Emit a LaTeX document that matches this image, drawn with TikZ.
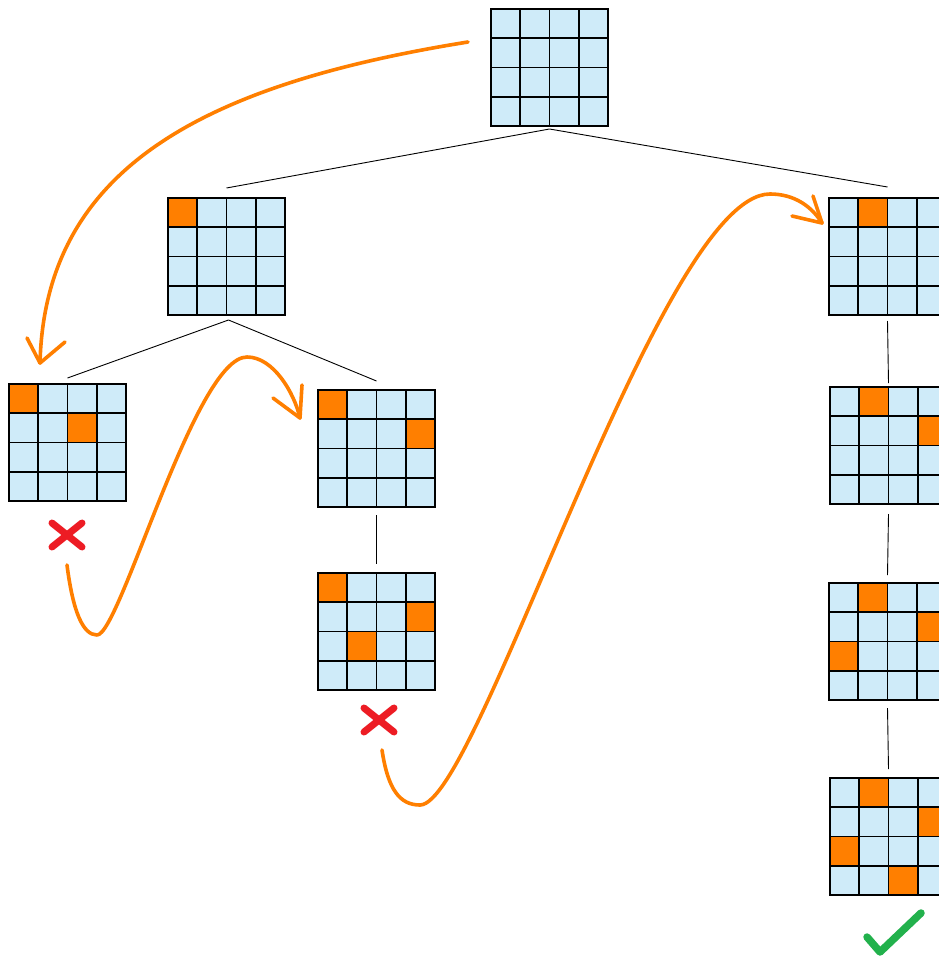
\documentclass[tikz,border=0pt]{standalone}
\usetikzlibrary{calc}
\definecolor{cellblue}{HTML}{CFEBF9}
\definecolor{queenor}{HTML}{FF7F00}
\definecolor{crossred}{HTML}{ED1C24}
\definecolor{checkgreen}{HTML}{22B14C}
\tikzset{
 board/.style={draw=black, line width=1.8pt, fill=cellblue, minimum size=117pt, inner sep=0pt, outer sep=0pt},
 cellline/.style={line width=1.6pt, black},
 queen/.style={fill=queenor},
 tree/.style={line width=0.9pt, black},
 trail/.style={draw=queenor, line width=3.6pt, line cap=round, line join=round},
 crossmark/.style={draw=crossred, line width=7pt, line cap=round},
 checkmark/.style={draw=checkgreen, line width=7.5pt, line cap=round, line join=round},
}
\newcommand\boardbase[3]{\node[board] (#1) at (#2+58.5,#3+58.5) {};}
\newcommand\boardlines[3]{%
 \foreach \qk in {1,2,3} {\draw[cellline] (#2+29.25*\qk,#3) -- ++(0,117); \draw[cellline] (#2,#3+29.25*\qk) -- ++(117,0);}
 \draw[draw=black,line width=1.8pt] (#1.north west) rectangle (#1.south east);}
\newcommand\qboard[4]{%
 \boardbase{#1}{#2}{#3}
 \foreach \qr/\qc in {#4} {\fill[queen] (#2+29.25*\qc-29.25, #3+29.25*\qr-29.25) rectangle ++(29.25,29.25);}
 \boardlines{#1}{#2}{#3}}
\begin{document}
\begin{tikzpicture}[x=1pt,y=-1pt]
\clip (0,0) rectangle (939,958);
\fill[white] (0,0) rectangle (939,958);
% boards
\boardbase{root}{491}{9}\boardlines{root}{491}{9}
\qboard{b2}{168}{198}{1/1}
\qboard{b3}{9}{384}{1/1,2/3}
\qboard{b4}{318}{390}{1/1,2/4}
\qboard{b5}{318}{573}{1/1,2/4,3/2}
\qboard{b6}{829}{198}{1/2}
\qboard{b7}{830}{387}{1/2,2/4}
\qboard{b8}{829}{583}{1/2,2/4,3/1}
\qboard{b9}{830}{778}{1/2,2/4,3/1,4/3}
% tree edges
\draw[tree] ([yshift=-3pt]root.south) -- ([yshift=10pt]b2.north);
\draw[tree] ([yshift=-3pt]root.south) -- ([yshift=11pt]b6.north);
\draw[tree] ([xshift=2pt,yshift=-5pt]b2.south) -- ([yshift=6pt]b3.north);
\draw[tree] ([xshift=2pt,yshift=-5pt]b2.south) -- ([yshift=9pt]b4.north);
\draw[tree] ([yshift=-8pt]b4.south) -- ([yshift=9pt]b5.north);
\draw[tree] ([yshift=-6pt]b6.south) -- ([yshift=4pt]b7.north);
\draw[tree] ([yshift=-10pt]b7.south) -- ([yshift=8pt]b8.north);
\draw[tree] ([yshift=-8pt]b8.south) -- ([yshift=9pt]b9.north);
% marks
\coordinate (x1) at (67,535);
\coordinate (x2) at (379,720);
\coordinate (ok) at (893,932);
\draw[crossmark] ($(x1)+(-15,-12)$) -- ($(x1)+(15,12)$);
\draw[crossmark] ($(x1)+(15,-12)$) -- ($(x1)+(-15,12)$);
\draw[crossmark] ($(x2)+(-15,-12)$) -- ($(x2)+(15,12)$);
\draw[crossmark] ($(x2)+(15,-12)$) -- ($(x2)+(-15,12)$);
\draw[checkmark] ($(ok)+(-26,5)$) -- ($(ok)+(-13,20)$) -- ($(ok)+(28,-19)$);
% orange trails
\coordinate (s1) at (468,42);
\coordinate (t1) at (40,363);
\draw[trail] (s1) .. controls (200,85) and (45,170) .. (t1);
\draw[trail] (t1) -- ++(-13,-25);
\draw[trail] (t1) -- ++(25,-21);
\coordinate (s2) at (67,565);
\coordinate (t2) at (300,418);
\draw[trail] (s2) .. controls (73,612) and (83,635) .. (97,635)
  .. controls (120,635) and (195,357) .. (247,357)
  .. controls (273,357) and (294,392) .. (t2);
\draw[trail] (t2) -- ++(-27,-20);
\draw[trail] (t2) -- ++(2,-33);
\coordinate (s3) at (382,750);
\coordinate (t3) at (822,223);
\draw[trail] (s3) .. controls (388,790) and (400,805) .. (420,805)
  .. controls (478,805) and (660,194) .. (770,194)
  .. controls (795,194) and (812,207) .. (t3);
\draw[trail] (t3) -- ++(-30,-7);
\draw[trail] (t3) -- ++(-9,-27);
\end{tikzpicture}
\end{document}
